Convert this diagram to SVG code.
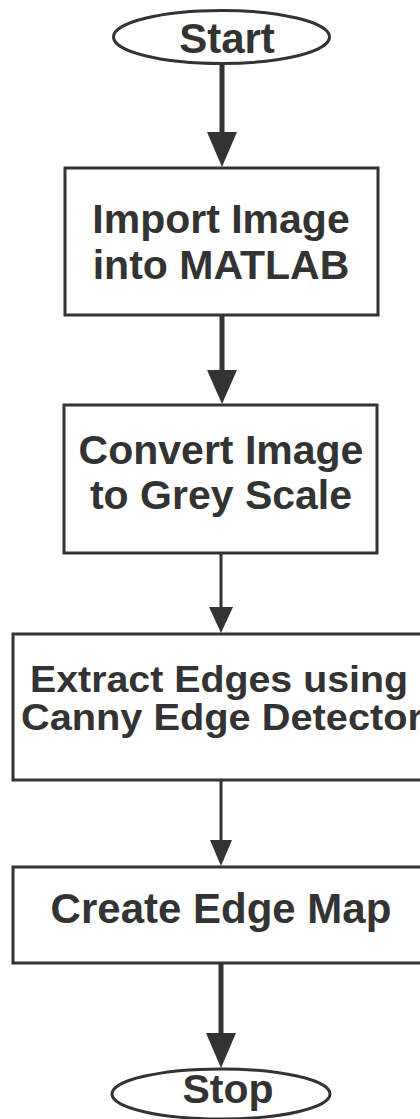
<svg xmlns="http://www.w3.org/2000/svg" width="420" height="1119" viewBox="0 0 420 1119">
  <style>
    .shape { fill: #ffffff; stroke: #333333; stroke-width: 3; }
    .label { font-family: "Liberation Sans", Arial, sans-serif; font-weight: bold; fill: #333333; text-anchor: middle; }
    .thick { stroke: #333333; stroke-width: 5; fill: none; }
    .thin { stroke: #333333; stroke-width: 3; fill: none; }
    .head { fill: #333333; stroke: none; }
  </style>
  <rect width="420" height="1119" fill="#ffffff"/>

  <g id="connectors">
    <!-- Start to Import -->
    <line class="thick" x1="222" y1="64" x2="222" y2="134"/>
    <polygon class="head" points="207,132 237,132 222,167"/>
    <!-- Import to Convert -->
    <line class="thick" x1="222" y1="315" x2="222" y2="372"/>
    <polygon class="head" points="207,370 237,370 222,404"/>
    <!-- Convert to Extract -->
    <line class="thin" x1="221" y1="553" x2="221" y2="609"/>
    <polygon class="head" points="209,607 233,607 221,633"/>
    <!-- Extract to Create -->
    <line class="thin" x1="221" y1="780" x2="221" y2="842"/>
    <polygon class="head" points="210,840 232,840 221,866"/>
    <!-- Create to Stop -->
    <line class="thick" x1="221" y1="963" x2="221" y2="1035"/>
    <polygon class="head" points="206,1033 236,1033 221,1068"/>
  </g>

  <g id="start">
    <ellipse class="shape" cx="221.5" cy="37" rx="108" ry="26.5"/>
    <text class="label" x="227" y="53" font-size="42">Start</text>
  </g>

  <g id="import">
    <rect class="shape" x="65" y="168" width="313" height="147"/>
    <text class="label" x="221" y="233" font-size="41">Import Image</text>
    <text class="label" x="221" y="279" font-size="41">into MATLAB</text>
  </g>

  <g id="convert">
    <rect class="shape" x="64" y="405" width="313" height="148"/>
    <text class="label" x="221" y="464" font-size="41">Convert Image</text>
    <text class="label" x="221" y="509" font-size="41">to Grey Scale</text>
  </g>

  <g id="extract">
    <rect class="shape" x="13" y="634" width="416" height="146"/>
    <text class="label" x="219" y="692" font-size="36" textLength="378" lengthAdjust="spacingAndGlyphs">Extract Edges using</text>
    <text class="label" x="222" y="730" font-size="36" textLength="402" lengthAdjust="spacingAndGlyphs">Canny Edge Detector</text>
  </g>

  <g id="create">
    <rect class="shape" x="13" y="867" width="416" height="96"/>
    <text class="label" x="221" y="923" font-size="42">Create Edge Map</text>
  </g>

  <g id="stop">
    <ellipse class="shape" cx="221" cy="1094" rx="109" ry="25"/>
    <text class="label" x="228" y="1103" font-size="41">Stop</text>
  </g>
</svg>
